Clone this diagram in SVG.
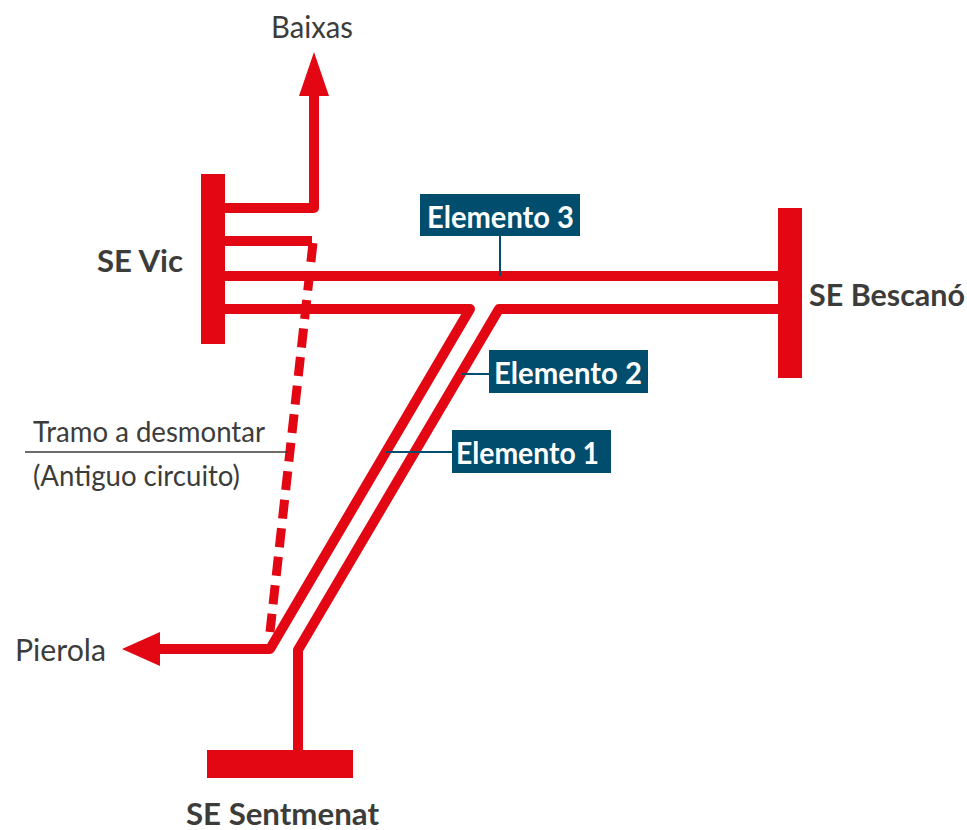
<svg xmlns="http://www.w3.org/2000/svg" width="967" height="830" viewBox="0 0 967 830">
<style>
.w{fill:none;stroke:#e30613;stroke-width:10;stroke-linejoin:round}
.b{fill:#e30613}
.l{fill:#004d6e}
.ll{fill:none;stroke:#004d6e;stroke-width:2}
.t{font-family:"Lato","Liberation Sans",sans-serif;fill:#3c3c3b}
.h{font-family:"Lato","Liberation Sans",sans-serif;font-size:30.5px;font-weight:700;fill:#3c3c3b}
.e{font-family:"Lato","Liberation Sans",sans-serif;font-size:29.5px;font-weight:700;fill:#fff}
</style>
<rect width="967" height="830" fill="#fff"/>
<g id="connectors">
<path class="w" d="M225 208H314V90"/>
<path class="b" d="M314 52L329 96H299Z"/>
<path class="w" d="M225 241H312"/>
<path class="w" d="M225 276H778"/>
<path class="w" d="M225 309H470L270 649H150"/>
<path class="b" d="M122 649L160 632V666Z"/>
<path class="w" d="M778 309H499L298 650V750"/>
<path d="M313 243L270 632" fill="none" stroke="#e30613" stroke-width="9" stroke-dasharray="19 9.7"/>
<path class="ll" d="M500 235V276"/>
<path class="ll" d="M492 374H462"/>
<path class="ll" d="M452 452H386"/>
<path d="M25 452H288" fill="none" stroke="#3c3c3b" stroke-width="1.5"/>
</g>
<g id="se-vic"><rect class="b" x="201" y="174" width="24" height="170"/><text class="h" x="97" y="272" textLength="86" lengthAdjust="spacingAndGlyphs">SE Vic</text></g>
<g id="se-bescano"><rect class="b" x="778" y="208" width="24" height="170"/><text class="h" x="809" y="306" textLength="156" lengthAdjust="spacingAndGlyphs">SE Bescanó</text></g>
<g id="se-sentmenat"><rect class="b" x="207" y="750" width="146" height="28"/><text class="h" x="186" y="825" textLength="193" lengthAdjust="spacingAndGlyphs">SE Sentmenat</text></g>
<g id="baixas"><text class="t" font-size="30" x="271" y="38" textLength="82" lengthAdjust="spacingAndGlyphs">Baixas</text></g>
<g id="pierola"><text class="t" font-size="30" x="15" y="661" textLength="91" lengthAdjust="spacingAndGlyphs">Pierola</text></g>
<g id="tramo"><text class="t" font-size="29" x="33" y="442" textLength="232" lengthAdjust="spacingAndGlyphs">Tramo a desmontar</text><text class="t" font-size="29" x="33" y="486" textLength="207" lengthAdjust="spacingAndGlyphs">(Antiguo circuito)</text></g>
<g id="elemento-3"><rect class="l" x="420" y="194" width="160" height="42"/><text class="e" x="427" y="228" textLength="147" lengthAdjust="spacingAndGlyphs">Elemento 3</text></g>
<g id="elemento-2"><rect class="l" x="489" y="350" width="159" height="43"/><text class="e" x="494" y="384" textLength="148" lengthAdjust="spacingAndGlyphs">Elemento 2</text></g>
<g id="elemento-1"><rect class="l" x="452" y="430" width="159" height="43"/><text class="e" x="456" y="464" textLength="143" lengthAdjust="spacingAndGlyphs">Elemento 1</text></g>
</svg>
